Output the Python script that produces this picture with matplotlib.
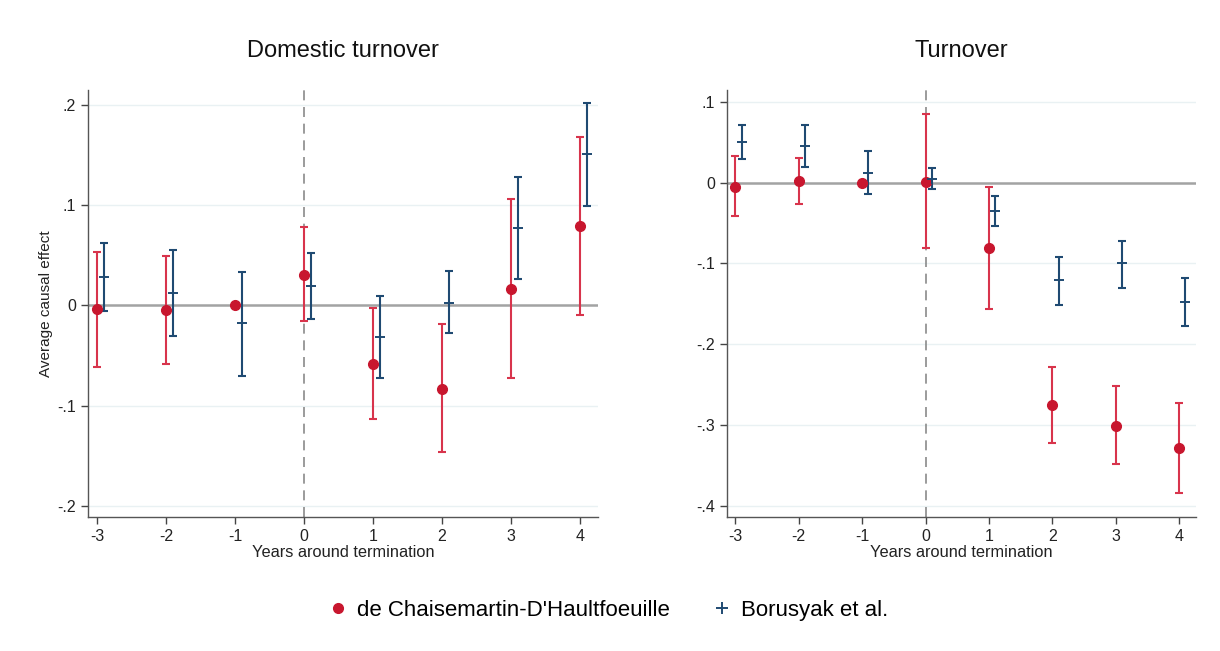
import matplotlib
matplotlib.use("Agg")
import matplotlib.pyplot as plt
import numpy as np
from matplotlib.lines import Line2D

plt.rcParams['font.family'] = ['Liberation Sans', 'DejaVu Sans']

years = [-3, -2, -1, 0, 1, 2, 3, 4]

# Domestic turnover
dom_dch = [-0.004, -0.005, 0.0, 0.030, -0.058, -0.083, 0.016, 0.079]
dom_dch_hi = [0.053, 0.049, 0.0, 0.078, -0.003, -0.019, 0.106, 0.168]
dom_dch_lo = [-0.061, -0.058, 0.0, -0.016, -0.113, -0.146, -0.072, -0.010]
dom_bor = [0.028, 0.012, -0.018, 0.019, -0.032, 0.002, 0.077, 0.151]
dom_bor_hi = [0.062, 0.055, 0.033, 0.052, 0.009, 0.034, 0.128, 0.202]
dom_bor_lo = [-0.006, -0.031, -0.070, -0.014, -0.072, -0.028, 0.026, 0.099]

# Turnover
tot_dch = [-0.005, 0.002, 0.0, 0.001, -0.081, -0.276, -0.301, -0.329]
tot_dch_hi = [0.033, 0.030, 0.0, 0.085, -0.005, -0.228, -0.252, -0.273]
tot_dch_lo = [-0.041, -0.026, 0.0, -0.081, -0.156, -0.323, -0.349, -0.384]
tot_bor = [0.050, 0.046, 0.012, 0.005, -0.035, -0.121, -0.100, -0.148]
tot_bor_hi = [0.072, 0.071, 0.039, 0.018, -0.017, -0.092, -0.072, -0.118]
tot_bor_lo = [0.029, 0.020, -0.014, -0.008, -0.054, -0.152, -0.130, -0.178]

dom_yticks = [0.2, 0.1, 0.0, -0.1, -0.2]
dom_ylabels = ['.2', '.1', '0', '-.1', '-.2']
tot_yticks = [0.1, 0.0, -0.1, -0.2, -0.3, -0.4]
tot_ylabels = ['.1', '0', '-.1', '-.2', '-.3', '-.4']

RED = '#c8162e'
RED_CI = '#d8344c'
BLUE = '#1f4a72'
GRID = '#e9f1f3'

fig = plt.figure(figsize=(12.2, 6.51), dpi=100)
fig.patch.set_facecolor('white')

ax1 = fig.add_axes([0.0721, 0.206, 0.418, 0.656])
ax2 = fig.add_axes([0.596, 0.206, 0.384, 0.656])


def draw(ax, dch, dhi, dlo, bor, bhi, blo, yticks, ylabels, ylim, title):
    x = np.array(years, dtype=float)
    ax.set_xlim(-3.13, 4.26)
    ax.set_ylim(*ylim)
    for t in yticks:
        ax.axhline(t, color=GRID, lw=1.0, zorder=0)
    ax.axhline(0, color='#a3a3a3', lw=1.8, zorder=1)
    ax.axvline(0, color='#8a8a8a', lw=1.2, ls=(0, (6, 4)), zorder=1)
    d = np.array(dch); dh = np.array(dhi); dl = np.array(dlo)
    b = np.array(bor); bh = np.array(bhi); bl = np.array(blo)
    ax.errorbar(x, d, yerr=[d - dl, dh - d], fmt='none', ecolor=RED_CI,
                elinewidth=1.5, capsize=3, capthick=1.5, zorder=2)
    ax.plot(x, d, 'o', color=RED, ms=7, mec=RED, zorder=3)
    ax.errorbar(x + 0.1, b, yerr=[b - bl, bh - b], fmt='none', ecolor=BLUE,
                elinewidth=1.5, capsize=3, capthick=1.5, zorder=2)
    ax.plot(x + 0.1, b, '+', color=BLUE, ms=7, mew=1.4, zorder=3)
    ax.set_yticks(yticks)
    ax.set_yticklabels(ylabels)
    ax.set_xticks(years)
    ax.set_xticklabels([str(v) for v in years])
    ax.tick_params(axis='both', direction='out', length=5, width=1,
                   color='#444444', labelsize=11.5, labelcolor='#222222')
    for s in ['top', 'right']:
        ax.spines[s].set_visible(False)
    for s in ['left', 'bottom']:
        ax.spines[s].set_color('#555555')
        ax.spines[s].set_linewidth(1.0)
    ax.set_xlabel('Years around termination', fontsize=11.8, labelpad=1,
                  color='#222222')
    ax.set_title(title, fontsize=17, pad=24, color='#111111')


draw(ax1, dom_dch, dom_dch_hi, dom_dch_lo, dom_bor, dom_bor_hi, dom_bor_lo,
     dom_yticks, dom_ylabels, (-0.211, 0.215), 'Domestic turnover')
draw(ax2, tot_dch, tot_dch_hi, tot_dch_lo, tot_bor, tot_bor_hi, tot_bor_lo,
     tot_yticks, tot_ylabels, (-0.414, 0.115), 'Turnover')
ax1.set_ylabel('Average causal effect', fontsize=11, color='#222222', labelpad=3)

handles = [
    Line2D([], [], ls='none', marker='o', color=RED, ms=7),
    Line2D([], [], ls='none', marker='+', color=BLUE, ms=8, mew=1.4),
]
fig.legend(handles, ["de Chaisemartin-D'Haultfoeuille", 'Borusyak et al.'],
           loc='center', bbox_to_anchor=(0.496, 0.062), ncol=2, frameon=False,
           fontsize=16, columnspacing=1.6, handletextpad=0.1, handlelength=1.5)

fig.savefig('out.png', dpi=100, facecolor='white')
